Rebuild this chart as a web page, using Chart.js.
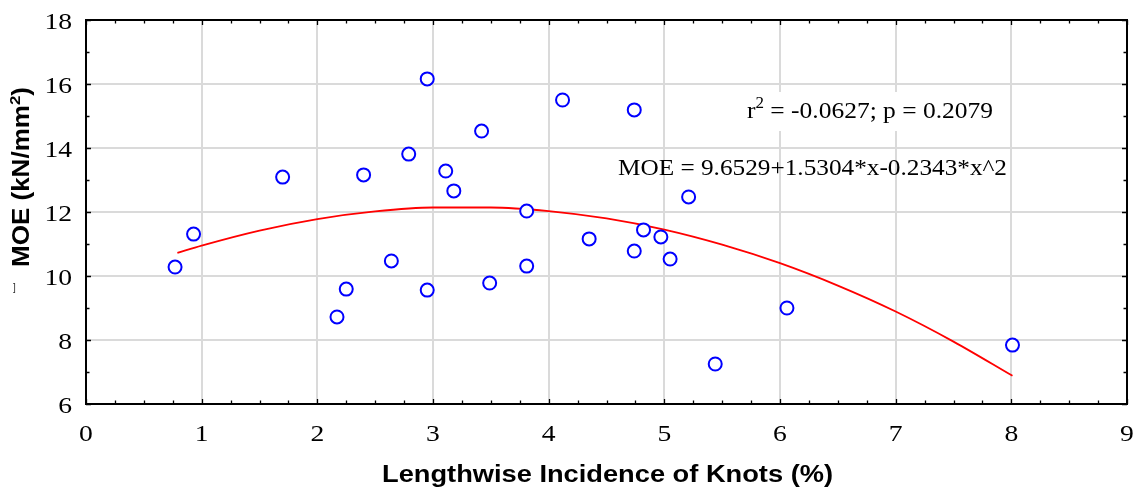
<!DOCTYPE html>
<html><head><meta charset="utf-8">
<style>html,body{margin:0;padding:0;background:#fff;}#wrap{width:1137px;height:489px;position:relative;}</style>
<script src="https://cdn.jsdelivr.net/npm/chart.js@4.4.0/dist/chart.umd.min.js"></script>
</head><body><div id="wrap"><canvas id="c" width="1137" height="489"></canvas></div>
<script>
// ---- data ----
const knotsPct = [0.77,0.93,1.70,2.17,2.25,2.40,2.64,2.79,2.95,2.95,3.11,3.18,3.42,3.49,3.81,3.81,4.12,4.35,4.74,4.74,4.82,4.97,5.05,5.21,5.44,6.06,8.01];
const moeValues = [10.28,11.31,13.09,8.72,9.59,13.16,10.47,13.81,16.16,9.56,13.28,12.66,14.53,9.78,12.03,10.31,15.50,11.16,15.19,10.78,11.44,11.22,10.53,12.47,7.25,9.00,7.84];
const fitX = [0.79,1,1.5,2,2.5,3,3.5,4,4.5,5,5.5,6,6.5,7,7.5,8.01];
const fitY = [10.72,10.95,11.42,11.78,12.02,12.14,12.14,12.03,11.80,11.45,10.98,10.40,9.70,8.89,7.95,6.88];
const xTickLabels = ['0','1','2','3','4','5','6','7','8','9'];
const yTickLabels = ['6','8','10','12','14','16','18'];
const xTitle = 'Lengthwise Incidence of Knots (%)';
const yTitleParts = ['MOE (kN/mm', '2', ')'];
const statsParts = ['r', '2', ' = -0.0627; p = 0.2079'];
const equationText = 'MOE = 9.6529+1.5304*x-0.2343*x^2';

function drawSegs(ctx, segs, x, y, o) {
  ctx.save();
  let w = 0;
  segs.forEach(s => { ctx.font = s.font; s.w = ctx.measureText(s.t).width; w += s.w; });
  const sc = o.targetW ? o.targetW / w : (o.sx || 1);
  const W = w * sc;
  ctx.translate(x, y);
  if (o.rotate) ctx.rotate(o.rotate);
  const off = o.align === 'center' ? -W / 2 : (o.align === 'right' ? -W : 0);
  ctx.translate(off, 0);
  ctx.scale(sc, 1);
  ctx.fillStyle = o.color || '#000';
  ctx.textBaseline = 'alphabetic';
  ctx.textAlign = 'left';
  let cx = 0;
  segs.forEach(s => { ctx.font = s.font; ctx.fillText(s.t, cx, s.dy || 0); cx += s.w; });
  ctx.restore();
}

const serif = '"Liberation Serif", "Times New Roman", serif';
const sans = '"Liberation Sans", Arial, sans-serif';

const decor = {
  id: 'decor',
  beforeDatasetsDraw(chart) {
    const ctx = chart.ctx, a = chart.chartArea, xs = chart.scales.x, ys = chart.scales.y;
    ctx.save();
    ctx.fillStyle = '#fff';
    ctx.fillRect(735, 92, 268, 39);
    ctx.strokeStyle = '#000';
    ctx.lineWidth = 2;
    ctx.strokeRect(a.left, a.top, a.right - a.left, a.bottom - a.top);
    ctx.lineWidth = 1.3;
    ctx.beginPath();
    for (let v = xs.min; v <= xs.max + 1e-9; v += 0.25) {
      const px = Math.round(xs.getPixelForValue(v)) + 0.5;
      const len = Math.abs(v - Math.round(v)) < 1e-6 ? 5 : 3.5;
      ctx.moveTo(px, a.bottom); ctx.lineTo(px, a.bottom - len);
      ctx.moveTo(px, a.top); ctx.lineTo(px, a.top + len);
    }
    for (let v = ys.min; v <= ys.max + 1e-9; v += 1) {
      const py = Math.round(ys.getPixelForValue(v)) + 0.5;
      const len = (v % 2 === 0) ? 5 : 3.5;
      ctx.moveTo(a.left, py); ctx.lineTo(a.left + len, py);
      ctx.moveTo(a.right, py); ctx.lineTo(a.right - len, py);
    }
    ctx.stroke();
    ctx.restore();
  },
  afterDatasetsDraw(chart) {
    const ctx = chart.ctx, xs = chart.scales.x, ys = chart.scales.y;
    const tf = '24px ' + serif;
    xs.ticks.forEach((t, i) => {
      drawSegs(ctx, [{t: xTickLabels[i], font: tf}], xs.getPixelForValue(t.value), 441, {align: 'center', sx: 1.15});
    });
    ys.ticks.forEach((t, i) => {
      drawSegs(ctx, [{t: yTickLabels[i], font: tf}], 72, ys.getPixelForValue(t.value) + 9, {align: 'right', sx: 1.15});
    });
    drawSegs(ctx, [{t: xTitle, font: 'bold 23px ' + sans}], 382, 482, {align: 'left', targetW: 451});
    drawSegs(ctx, [
      {t: yTitleParts[0], font: 'bold 23px ' + sans},
      {t: yTitleParts[1], font: 'bold 15px ' + sans, dy: -9},
      {t: yTitleParts[2], font: 'bold 23px ' + sans}
    ], 29, 177, {align: 'center', targetW: 180, rotate: -Math.PI / 2});
    drawSegs(ctx, [{t: ']', font: '10px ' + sans}], 13, 291, {align: 'left', color: '#333'});
    drawSegs(ctx, [
      {t: statsParts[0], font: '24px ' + serif},
      {t: statsParts[1], font: '16px ' + serif, dy: -10},
      {t: statsParts[2], font: '24px ' + serif}
    ], 747, 118, {align: 'left', targetW: 246});
    drawSegs(ctx, [{t: equationText, font: '24px ' + serif}], 618, 175, {align: 'left', targetW: 389});
  }
};

const gridOpts = {color: '#dadada', lineWidth: 2, drawTicks: false};
new Chart(document.getElementById('c'), {
  type: 'scatter',
  data: {
    datasets: [
      {
        label: 'MOE',
        data: knotsPct.map((x, i) => ({x: x, y: moeValues[i]})),
        pointStyle: 'circle', pointRadius: 6.5, pointHoverRadius: 6.5,
        borderColor: '#0000ff', backgroundColor: '#ffffff', borderWidth: 2, order: 0
      },
      {
        label: 'Fit',
        type: 'line',
        data: fitX.map((x, i) => ({x: x, y: fitY[i]})),
        borderColor: '#ff0000', borderWidth: 1.8, pointRadius: 0, fill: false,
        cubicInterpolationMode: 'monotone', order: 1
      }
    ]
  },
  options: {
    responsive: false, animation: false, events: [],
    layout: {padding: {top: 20, right: 10, left: 0, bottom: 0}},
    plugins: {legend: {display: false}, tooltip: {enabled: false}},
    scales: {
      x: {type: 'linear', min: 0, max: 9, ticks: {stepSize: 1, display: false}, grid: gridOpts, border: {display: false},
          afterFit(s) { s.height = 85; }},
      y: {type: 'linear', min: 6, max: 18, ticks: {stepSize: 2, display: false}, grid: gridOpts, border: {display: false},
          afterFit(s) { s.width = 86; }}
    }
  },
  plugins: [decor]
});
</script>
</body></html>
